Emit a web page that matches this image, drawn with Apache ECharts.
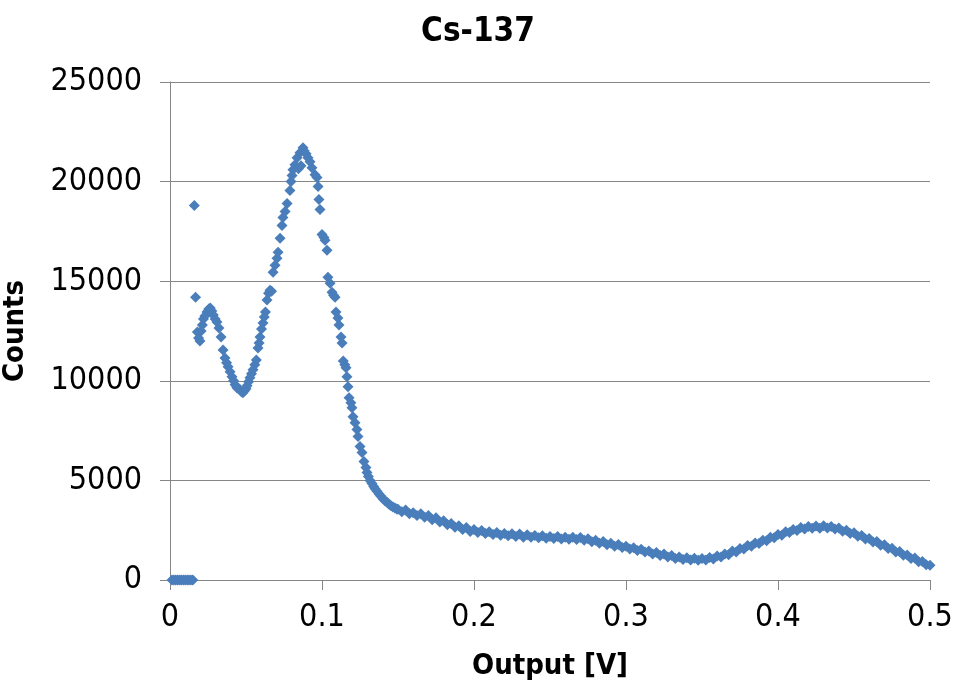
<!DOCTYPE html>
<html>
<head>
<meta charset="utf-8">
<script src="https://cdn.jsdelivr.net/npm/echarts@6/dist/echarts.min.js"></script>
<style>
html,body{margin:0;padding:0;background:#fff;}
#chart{width:956px;height:693px;}
</style>
</head>
<body>
<div id="chart"></div>
<script>
// Low-voltage region (explicit readings): volts and counts
const voltsLow = [
  0.0013,0.0025,0.0038,0.005,0.0063,0.0075,0.0088,0.01,0.0113,0.0125,0.0138,0.015,
  0.0160,0.0168,0.0180,0.0188,0.0197,0.0205,0.0213,0.0220,0.0230,0.0243,0.0255,0.0265,
  0.0275,0.0285,0.0297,0.0309,0.0322,0.0336,0.0349,0.0362,0.0372,0.0382,0.0395,0.0408,
  0.0418,0.0428,0.0440,0.0452,0.0461,0.0470,0.0480,0.0490,0.0500,0.0507,0.0517,0.0526,
  0.0536,0.0546,0.0558,0.0568,0.0579,0.0586,0.0592,0.0602,0.0612,0.0620,0.0628,0.0638,
  0.0648,0.0658,0.0668,0.0678,0.0691,0.0704,0.0711,0.0724,0.0737,0.0743,0.0757,0.0770,
  0.0789,0.0796,0.0803,0.0809,0.0822,0.0836,0.0845,0.0855,0.0862,0.0875,0.0882,0.0895,
  0.0908,0.0921,0.0934,0.0954,0.0967,0.0974,0.0980,0.0987,0.1000,0.1013,0.1020,0.1033,
  0.1039,0.1053,0.1066,0.1076,0.1086,0.1092,0.1105,0.1112,0.1125,0.1132,0.1140,0.1150,
  0.1158,0.1164,0.1171,0.1178,0.1190,0.1197,0.1204,0.1217,0.1230,0.1237,0.1250,0.1263,
  0.1276,0.1289,0.1296,0.1305,0.1316,0.1329,0.1340,0.1349,0.1362,0.1375,0.1388,0.1401,
  0.1414,0.1428,0.1441,0.1454,0.1467,0.1480,0.1492,0.1500
];
const countsLow = [
  0,0,0,0,0,0,0,0,0,0,0,0,
  18800,14200,12450,12150,12000,12500,12800,13100,13250,13450,13600,13650,
  13500,13300,13100,12950,12650,12200,11550,11150,10900,10700,10450,10200,
  10000,9800,9650,9600,9550,9450,9400,9500,9600,9750,9950,10150,
  10350,10550,10800,11050,11650,11900,12200,12600,12900,13200,13450,14050,
  14400,14550,14500,15450,15800,16150,16450,17150,17800,18200,18500,18900,
  19550,20000,20300,20600,20850,21200,20650,21450,20800,21700,21550,21400,
  21200,21000,20700,20350,20200,19750,19100,18600,17350,17200,17050,16550,
  15200,14900,14450,14300,14200,13450,13150,12800,12200,11900,11000,10800,
  10650,10200,9700,9150,8900,8650,8200,7900,7550,7200,6700,6400,
  5950,5650,5400,5200,5000,4850,4700,4580,4450,4320,4200,4080,
  3980,3900,3800,3730,3660,3620,3570,3550
];
// Tail region: readings every tailStep volts starting at tailStart
const tailStart = 0.1525;
const tailStep = 0.0025;
const countsTail = [
  3430,3520,3330,3380, 3240,3330,3150,3240, 3030,3130,2910,2980, 2770,2840,2650,2720,
  2540,2630,2440,2530, 2390,2480,2330,2420, 2280,2380,2250,2340, 2220,2320,2180,2310,
  2150,2270,2140,2230, 2120,2220,2100,2190, 2080,2180,2060,2150, 2040,2150,2030,2130,
  1990,2070,1920,2000, 1840,1930,1770,1850, 1700,1780,1630,1700, 1550,1620,1480,1540,
  1400,1460,1310,1380, 1230,1300,1150,1230, 1080,1160,1030,1120, 1000,1090,990,1080,
  1010,1130,1060,1200, 1150,1310,1270,1450, 1410,1580,1550,1730, 1690,1860,1830,2000,
  1970,2150,2120,2290, 2250,2420,2380,2540, 2490,2630,2560,2680, 2600,2710,2600,2720,
  2610,2690,2560,2610, 2450,2500,2340,2370, 2200,2230,2060,2080, 1910,1930,1750,1770,
  1580,1600,1410,1430, 1240,1260,1080,1100, 920,930,770,740
];
const xTicks = [0, 0.1, 0.2, 0.3, 0.4, 0.5];
const yTicks = [0, 5000, 10000, 15000, 20000, 25000];

const points = [];
voltsLow.forEach((v, i) => points.push([v, countsLow[i]]));
countsTail.forEach((c, i) => points.push([+(tailStart + i * tailStep).toFixed(4), c]));

const FONT = "'DejaVu Sans Condensed','Liberation Sans',sans-serif";
const chart = echarts.init(document.getElementById('chart'), null, {renderer: 'canvas'});
chart.setOption({
  animation: false,
  backgroundColor: '#ffffff',
  title: {
    text: 'Cs-137', left: 'center', top: 11,
    textStyle: {fontFamily: FONT, fontWeight: 'bold', fontSize: 33, color: '#000'}
  },
  grid: {left: 170, right: 26, top: 82, bottom: 113, containLabel: false, outerBoundsMode: 'none'},
  xAxis: {
    type: 'value', min: 0, max: 0.5, interval: 0.1,
    name: 'Output [V]', nameLocation: 'middle', nameGap: 72,
    nameTextStyle: {fontFamily: FONT, fontWeight: 'bold', fontSize: 29, color: '#000'},
    axisLine: {show: true, lineStyle: {color: '#868686', width: 1}},
    axisTick: {show: true, inside: false, length: 10, lineStyle: {color: '#868686'}},
    axisLabel: {fontFamily: FONT, fontSize: 32, color: '#000', margin: 22,
      formatter: v => String(+v.toFixed(1))},
    splitLine: {show: false}
  },
  yAxis: {
    type: 'value', min: 0, max: 25000, interval: 5000,
    name: 'Counts', nameLocation: 'middle', nameGap: 140, nameRotate: 90,
    nameTextStyle: {fontFamily: FONT, fontWeight: 'bold', fontSize: 29, color: '#000'},
    axisLine: {show: true, lineStyle: {color: '#868686', width: 1}},
    axisTick: {show: true, inside: false, length: 10, lineStyle: {color: '#868686'}},
    axisLabel: {fontFamily: FONT, fontSize: 32, color: '#000', margin: 28,
      formatter: v => String(v)},
    splitLine: {show: true, lineStyle: {color: '#868686', width: 1}}
  },
  series: [{
    type: 'scatter',
    data: points,
    symbol: 'diamond',
    symbolSize: 11,
    itemStyle: {color: '#4a7ebb', opacity: 1},
    emphasis: {disabled: true}
  }]
});
</script>
</body>
</html>
